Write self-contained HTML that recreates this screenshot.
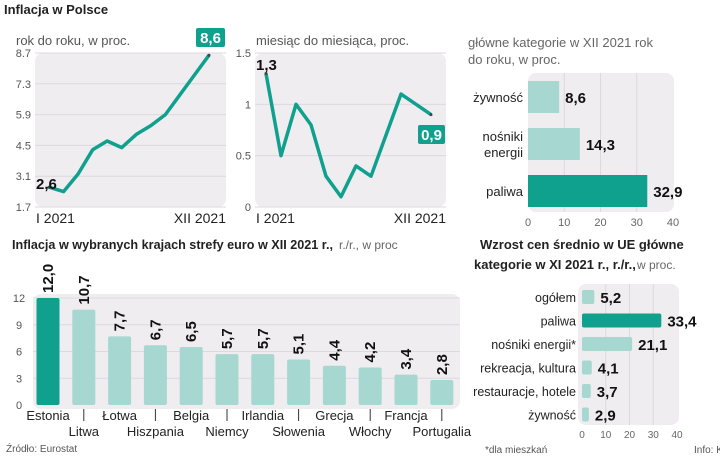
<!DOCTYPE html>
<html><head><meta charset="utf-8"><style>
body{margin:0;background:#fff;}
svg{display:block;font-family:"Liberation Sans",sans-serif;}
</style></head><body>
<svg id="c" width="720" height="456" viewBox="0 0 720 456"></svg>
<script>
const months=['I','II','III','IV','V','VI','VII','VIII','IX','X','XI','XII'];
const yoyValues=[2.6,2.4,3.2,4.3,4.7,4.4,5.0,5.4,5.9,6.8,7.7,8.6];
const yoyTicks=[1.7,3.1,4.5,5.9,7.3,8.7];
const momValues=[1.3,0.5,1.0,0.8,0.3,0.1,0.4,0.3,0.7,1.1,1.0,0.9];
const momTicks=[0,0.5,1,1.5];
const plCats=['żywność','nośniki|energii','paliwa'];
const plValues=[8.6,14.3,32.9];
const barTicks=[0,10,20,30,40];
const euCountries=['Estonia','Litwa','Łotwa','Hiszpania','Belgia','Niemcy','Irlandia','Słowenia','Grecja','Włochy','Francja','Portugalia'];
const euValues=[12.0,10.7,7.7,6.7,6.5,5.7,5.7,5.1,4.4,4.2,3.4,2.8];
const euTicks=[0,3,6,9,12];
const ueCats=['ogółem','paliwa','nośniki energii*','rekreacja, kultura','restauracje, hotele','żywność'];
const ueValues=[5.2,33.4,21.1,4.1,3.7,2.9];

const DARK='#10a08e',LIGHT='#a6d7d1',BG='#efedf0';
const svg=document.getElementById('c');
const NS='http://www.w3.org/2000/svg';
function el(tag,attrs,text,name){const e=document.createElementNS(NS,tag);for(const k in attrs)e.setAttribute(k,attrs[k]);if(text!==undefined)e.textContent=text;


svg.appendChild(e);return e;}
const fmt=v=>v.toFixed(1).replace('.',',');

// titles
el('text',{x:4,y:14,'font-size':13,'font-weight':'bold',fill:'#222'},'Inflacja w Polsce','main-title');
el('text',{x:16,y:45,'font-size':13,fill:'#555'},'rok do roku, w proc.','yoy-subtitle');
el('text',{x:256,y:45,'font-size':13,fill:'#555'},'miesiąc do miesiąca,  proc.','mom-subtitle');
el('text',{x:468,y:47,'font-size':13,fill:'#666'},'główne kategorie w XII 2021  rok','pl-cat-subtitle');
el('text',{x:468,y:64,'font-size':13,fill:'#666'},'do roku, w proc.','pl-cat-subtitle-2');

function lineChart(o){
  const {x0,x1,y0,y1,vmin,vmax,ticks,vals,px0,px1,prefix,tickFmt}=o;
  el('rect',{x:x0,y:y0,width:x1-x0,height:y1-y0,rx:8,fill:BG},undefined,prefix+'-plot-bg');
  const Y=v=>y1-(v-vmin)/(vmax-vmin)*(y1-y0);
  const X=i=>px0+i*(px1-px0)/(vals.length-1);
  ticks.forEach(t=>{
    el('line',{x1:x0,x2:x1,y1:Y(t),y2:Y(t),stroke:'#dcdade','stroke-width':1},undefined,prefix+'-gridline');
    el('text',{x:x0-4,y:Y(t)+4,'font-size':11,fill:'#555','text-anchor':'end'},tickFmt(t),prefix+'-y-tick');
  });
  el('polyline',{points:vals.map((v,i)=>X(i)+','+Y(v)).join(' '),fill:'none',stroke:DARK,'stroke-width':3.5,'stroke-linejoin':'round'},undefined,prefix+'-line');
  el('circle',{cx:X(0),cy:Y(vals[0]),r:1.5,fill:'#444'},undefined,prefix+'-first-point');
  el('circle',{cx:X(vals.length-1),cy:Y(vals[vals.length-1]),r:1.5,fill:'#444'},undefined,prefix+'-last-point');
  return {X,Y};
}
lineChart({x0:35,x1:226,y0:53,y1:207,vmin:1.7,vmax:8.7,ticks:yoyTicks,vals:yoyValues,px0:49,px1:209,prefix:'yoy',tickFmt:t=>t.toFixed(1)});
el('text',{x:36,y:189,'font-size':15,'font-weight':'bold',fill:'#111'},fmt(yoyValues[0]),'yoy-first-label');
el('rect',{x:196,y:28,width:29,height:19,rx:2,fill:DARK},undefined,'yoy-last-label-box');
el('text',{x:210.5,y:43,'font-size':15,'font-weight':'bold',fill:'#fff','text-anchor':'middle'},fmt(yoyValues[11]),'yoy-last-label');
el('text',{x:36,y:223,'font-size':14,fill:'#222'},months[0]+' 2021','yoy-x-start');
el('text',{x:226,y:223,'font-size':14,fill:'#222','text-anchor':'end'},months[11]+' 2021','yoy-x-end');

lineChart({x0:255,x1:446,y0:53,y1:207,vmin:0,vmax:1.5,ticks:momTicks,vals:momValues,px0:266,px1:431,prefix:'mom',tickFmt:t=>String(t)});
el('text',{x:256,y:70,'font-size':15,'font-weight':'bold',fill:'#111'},fmt(momValues[0]),'mom-first-label');
el('rect',{x:418,y:125,width:27,height:19,rx:2,fill:DARK},undefined,'mom-last-label-box');
el('text',{x:431.5,y:140,'font-size':15,'font-weight':'bold',fill:'#fff','text-anchor':'middle'},fmt(momValues[11]),'mom-last-label');
el('text',{x:256,y:223,'font-size':14,fill:'#222'},months[0]+' 2021','mom-x-start');
el('text',{x:446,y:223,'font-size':14,fill:'#222','text-anchor':'end'},months[11]+' 2021','mom-x-end');

// PL category bars
(function(){
  const x0=528,x1=673,y0=73,y1=212;
  el('rect',{x:x0,y:y0,width:x1-x0+1,height:y1-y0,rx:8,fill:BG},undefined,'pl-bar-plot-bg');
  const X=v=>x0+v/40*(x1-x0);
  barTicks.forEach(t=>{
    if(t>0&&t<40)el('line',{x1:X(t),x2:X(t),y1:y0,y2:y1,stroke:'#dcdade'},undefined,'pl-bar-gridline');
    el('text',{x:X(t),y:226,'font-size':11,fill:'#666','text-anchor':'middle'},String(t),'pl-bar-x-tick');
  });
  const rows=[97,144,191];
  plValues.forEach((v,i)=>{
    el('rect',{x:x0,y:rows[i]-16,width:X(v)-x0,height:32,fill:i===2?DARK:LIGHT},undefined,'pl-bar');
    el('text',{x:X(v)+6,y:rows[i]+6,'font-size':15,'font-weight':'bold',fill:'#111'},fmt(v),'pl-bar-value');
    const parts=plCats[i].split('|');
    parts.forEach((p,j)=>el('text',{x:523,y:rows[i]+5+(j-(parts.length-1)/2)*16,'font-size':13,fill:'#222','text-anchor':'end'},p,'pl-bar-label'));
  });
})();

// EU countries
el('text',{x:12,y:249,'font-size':13,'font-weight':'bold',fill:'#222',textLength:321,lengthAdjust:'spacingAndGlyphs'},'Inflacja w wybranych krajach strefy euro  w XII 2021 r.,','eu-title');
el('text',{x:339,y:249,'font-size':12,fill:'#666'},'r./r., w proc','eu-title-unit');
(function(){
  const x0=33,x1=460,y0=298,y1=405;
  el('rect',{x:x0,y:y0-4,width:x1-x0,height:y1-y0+8,rx:8,fill:BG},undefined,'eu-plot-bg');
  const Y=v=>y1-v/12*(y1-y0);
  euTicks.forEach(t=>{
    if(t>0)el('line',{x1:x0,x2:x1,y1:Y(t),y2:Y(t),stroke:'#dcdade'},undefined,'eu-gridline');
    el('text',{x:19,y:Y(t)+4,'font-size':11,fill:'#555','text-anchor':'middle'},String(t),'eu-y-tick');
  });
  const step=35.8,cx0=48;
  euValues.forEach((v,i)=>{
    const cx=cx0+i*step;
    el('rect',{x:cx-11.5,y:Y(v),width:23,height:y1-Y(v),rx:2,fill:i===0?DARK:LIGHT},undefined,'eu-bar');
    el('text',{x:0,y:0,'font-size':15,'font-weight':'bold',fill:'#111',transform:`translate(${cx+5},${Y(v)-5}) rotate(-90)`},fmt(v),'eu-bar-value');
    el('text',{x:cx,y:i%2===0?420:436,'font-size':13,fill:'#222','text-anchor':'middle'},euCountries[i],'eu-x-label');
    if(i%2===1)el('line',{x1:cx,x2:cx,y1:409,y2:421,stroke:'#333'},undefined,'eu-x-separator');
  });
})();
el('text',{x:6,y:452,'font-size':10,fill:'#555'},'Źródło: Eurostat','source-note');

// UE categories
el('text',{x:480,y:249,'font-size':13,'font-weight':'bold',fill:'#222'},'Wzrost cen średnio w UE główne','ue-title-1');
el('text',{x:474,y:269,'font-size':13,'font-weight':'bold',fill:'#222'},'kategorie w XI 2021 r., r./r.,','ue-title-2');
el('text',{x:637,y:269,'font-size':12,fill:'#666'},'w proc.','ue-title-unit');
(function(){
  const x0=582,x1=677,y0=284,y1=425;
  el('rect',{x:x0-4,y:y0,width:x1-x0+6,height:y1-y0,rx:8,fill:BG},undefined,'ue-plot-bg');
  const X=v=>x0+v/40*(x1-x0);
  barTicks.forEach(t=>{
    if(t>0&&t<40)el('line',{x1:X(t),x2:X(t),y1:y0,y2:y1,stroke:'#dcdade'},undefined,'ue-gridline');
    el('text',{x:X(t),y:438,'font-size':10,fill:'#666','text-anchor':'middle'},String(t),'ue-x-tick');
  });
  ueValues.forEach((v,i)=>{
    const cy=297+i*23.5;
    el('rect',{x:x0,y:cy-7,width:X(v)-x0,height:14,rx:2,fill:i===1?DARK:LIGHT},undefined,'ue-bar');
    el('text',{x:X(v)+6,y:cy+6,'font-size':15,'font-weight':'bold',fill:'#111'},fmt(v),'ue-bar-value');
    el('text',{x:576,y:cy+5,'font-size':12.5,fill:'#222','text-anchor':'end'},ueCats[i],'ue-bar-label');
  });
})();
el('text',{x:485,y:453,'font-size':10,fill:'#555'},'*dla mieszkań','footnote');
el('text',{x:694,y:453,'font-size':10,fill:'#555'},'Info: K','credit');
</script>
</body></html>
